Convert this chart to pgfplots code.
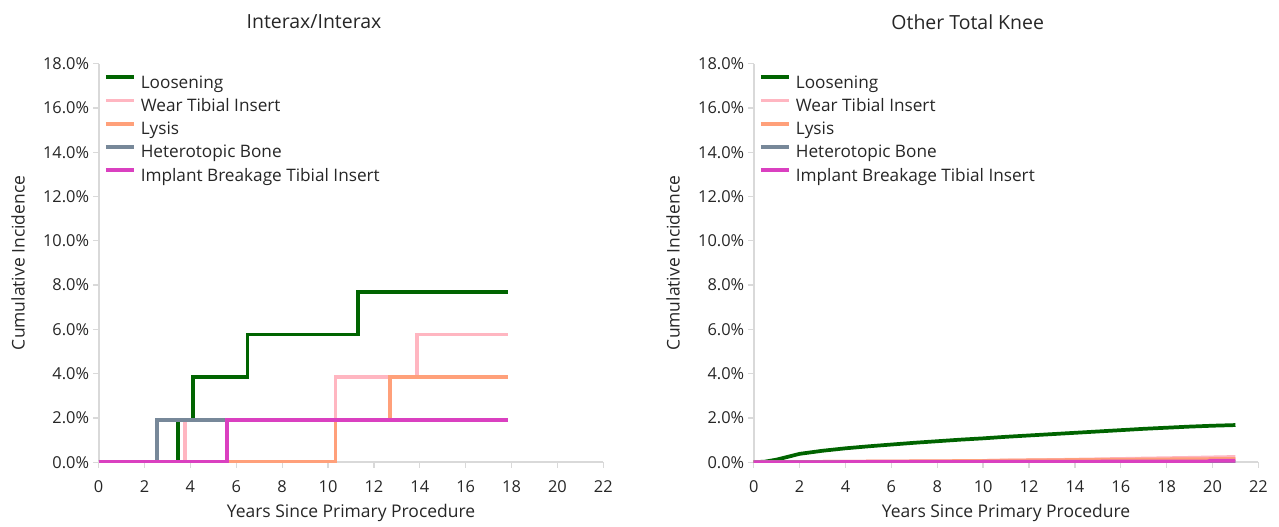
\documentclass[border=0pt]{standalone}
\usepackage{fontspec}
\setmainfont{Open Sans}
\usepackage{pgfplots}
\pgfplotsset{compat=1.18}

\definecolor{loosen}{HTML}{006400}
\definecolor{wear}{HTML}{FFB6C1}
\definecolor{lysis}{HTML}{FFA07A}
\definecolor{hetero}{HTML}{778899}
\definecolor{breakage}{HTML}{DA40C0}
\definecolor{axisgray}{HTML}{D9D9D9}
\definecolor{txt}{HTML}{262626}

\pgfplotsset{
  panel/.style={
    scale only axis,
    width=378.5pt, height=299pt,
    xmin=0, xmax=22, ymin=0, ymax=18,
    xtick={0,2,...,22}, ytick={0,2,...,18},
    axis lines*=left,
    axis line style={color=axisgray, line width=1.5pt},
    tick style={color=axisgray, line width=1pt},
    major tick length=4pt, tick align=outside,
    /pgf/number format/assume math mode=true,
    yticklabel={\pgfmathprintnumber[fixed,fixed zerofill,precision=1]{\tick}\%},
    tick label style={font=\fontsize{12.3}{14}\selectfont, text=txt},
    xticklabel style={anchor=center, yshift=-14pt},
    yticklabel style={anchor=east, inner sep=0pt, xshift=-3pt},
    label style={font=\fontsize{13.1}{15}\selectfont, text=txt},
    xlabel={Years Since Primary Procedure},
    ylabel={Cumulative Incidence},
    xlabel style={at={(axis description cs:0.5,0)}, anchor=center, yshift=-38pt},
    ylabel style={at={(axis description cs:0,0.5)}, anchor=center, yshift=60.5pt},
    every axis plot/.append style={line width=2.8pt},
    legend cell align=left,
    legend image code/.code={\draw[#1] (0pt,5pt) -- (21pt,5pt);},
    legend style={
      at={(0,1)}, anchor=north west, xshift=4pt, yshift=-8.75pt,
      inner sep=0pt, outer sep=0pt,
      draw=none, fill=none, font=\fontsize{12.9}{15}\selectfont, text=txt,
      nodes={inner sep=0pt, text height=9.3pt, text depth=2.9pt},
      row sep=4.95pt,
      /tikz/every odd column/.append style={column sep=3.8pt},
    },
  },
}

\begin{document}
\begin{tikzpicture}
\useasboundingbox (0,0) rectangle (959.25pt,-395.25pt);

\node[font=\fontsize{14.6}{17}\selectfont, text=txt] at (235.5pt,-16.3pt) {Interax/Interax};
\node[font=\fontsize{14.6}{17}\selectfont, text=txt] at (725.8pt,-16.3pt) {Other Total Knee};

% Interax/Interax
\begin{axis}[panel, at={(74pt,-346.7pt)}, anchor=south west]
  \addplot[const plot, color=loosen] coordinates {
    (0,0) (3.47,1.923) (4.12,3.846) (6.49,5.769) (11.29,7.692) (17.83,7.692)
  };
  \addplot[const plot, color=wear] coordinates {
    (0,0) (3.76,1.923) (10.33,3.846) (13.89,5.769) (17.83,5.769)
  };
  \addplot[const plot, color=lysis] coordinates {
    (0,0) (10.33,1.923) (12.70,3.846) (17.83,3.846)
  };
  \addplot[const plot, color=hetero] coordinates {
    (0,0) (2.53,1.923) (17.83,1.923)
  };
  \addplot[const plot, color=breakage] coordinates {
    (0,0) (5.61,1.923) (17.83,1.923)
  };
  \legend{Loosening, Wear Tibial Insert, Lysis, Heterotopic Bone, Implant Breakage Tibial Insert}
\end{axis}

% Other Total Knee
\begin{axis}[panel, at={(565.3pt,-346.7pt)}, anchor=south west]
  \addplot[color=loosen] coordinates {
    (0,0) (0.5,0.03) (1,0.12) (1.5,0.25) (2,0.38) (3,0.52) (4,0.63) (5,0.72)
    (6,0.80) (7,0.88) (8,0.95) (9,1.02) (10,1.08) (11,1.15) (12,1.21) (13,1.27)
    (14,1.33) (15,1.39) (16,1.45) (17,1.51) (18,1.56) (19,1.61) (20,1.65) (21,1.68)
  };
  \addplot[color=wear] coordinates {
    (0,0) (5,0.03) (10,0.06) (13,0.10) (16,0.15) (19,0.20) (21,0.24)
  };
  \addplot[color=lysis] coordinates {
    (0,0) (5,0.03) (10,0.06) (11,0.08) (14,0.10) (18,0.13) (21,0.15)
  };
  \addplot[color=hetero] coordinates {
    (0,0) (21,0.01)
  };
  \addplot[color=breakage] coordinates {
    (0,0) (11,0.02) (19.8,0.04) (19.9,0.07) (21,0.07)
  };
  \legend{Loosening, Wear Tibial Insert, Lysis, Heterotopic Bone, Implant Breakage Tibial Insert}
\end{axis}
\end{tikzpicture}
\end{document}
